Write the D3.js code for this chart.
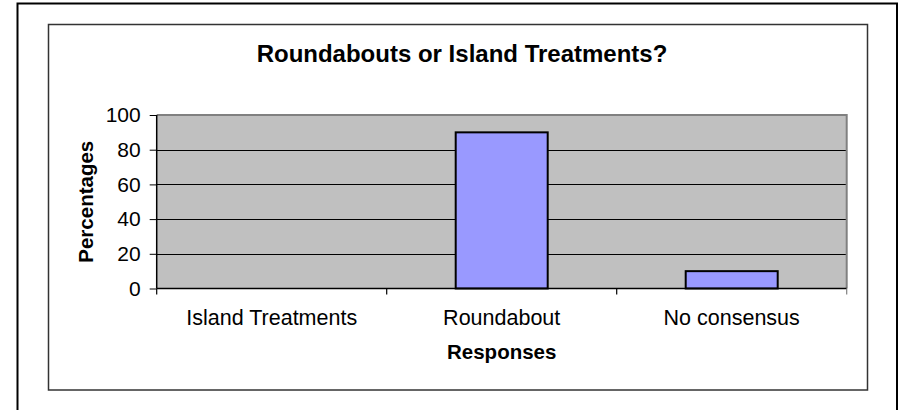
<!DOCTYPE html>
<html>
<head>
<meta charset="utf-8">
<script src="https://cdn.jsdelivr.net/npm/d3@7"></script>
<style>
html,body{margin:0;padding:0;background:#fff;}
svg{display:block;}
text{font-family:"Liberation Sans",Arial,sans-serif;fill:#000;}
</style>
</head>
<body>
<svg id="chart" width="902" height="410"></svg>
<script>
const categories = ["Island Treatments", "Roundabout", "No consensus"];
const values = [0, 90, 10];
const yTicks = [0, 20, 40, 60, 80, 100];
const title = "Roundabouts or Island Treatments?";
const xTitle = "Responses";
const yTitle = "Percentages";

const svg = d3.select("#chart");
const plot = {left: 156.7, right: 846.7, top: 115, bottom: 288.5};

// outer frame
svg.append("path")
  .attr("d", "M17.5,410 L17.5,3.5 L897,3.5 L897,410")
  .attr("fill", "none").attr("stroke", "#000").attr("stroke-width", 2);

// inner chart box
svg.append("rect")
  .attr("x", 48.5).attr("y", 24.5).attr("width", 819).attr("height", 365.5)
  .attr("fill", "#fff").attr("stroke", "#333").attr("stroke-width", 1.5);

const x = d3.scaleBand().domain(categories).range([plot.left, plot.right]).padding(0);
const y = d3.scaleLinear().domain([0, 100]).range([plot.bottom, plot.top]);

// plot background
svg.append("rect")
  .attr("x", plot.left).attr("y", plot.top)
  .attr("width", plot.right - plot.left).attr("height", plot.bottom - plot.top)
  .attr("fill", "#C0C0C0");

// gridlines
svg.append("g").selectAll("line")
  .data(yTicks.filter(d => d > 0 && d < 100))
  .join("line")
  .attr("x1", plot.left).attr("x2", plot.right)
  .attr("y1", d => Math.round(y(d)) + 0.5).attr("y2", d => Math.round(y(d)) + 0.5)
  .attr("stroke", "#000").attr("stroke-width", 1);

// top & right gray border
svg.append("path")
  .attr("d", `M${plot.left},${plot.top} L${plot.right},${plot.top} L${plot.right},${plot.bottom}`)
  .attr("fill", "none").attr("stroke", "#808080").attr("stroke-width", 2);

// bars
const bw = x.bandwidth() * 0.4;
svg.append("g").selectAll("rect")
  .data(categories.map((c, i) => ({c, v: values[i]})).filter(d => d.v > 0))
  .join("rect")
  .attr("x", d => x(d.c) + x.bandwidth() / 2 - bw / 2)
  .attr("y", d => y(d.v))
  .attr("width", bw)
  .attr("height", d => y(0) - y(d.v))
  .attr("fill", "#9999FF").attr("stroke", "#000").attr("stroke-width", 2);

// y axis
const yAxis = d3.axisLeft(y).tickValues(yTicks).tickSize(7).tickPadding(9).tickFormat(d3.format("d"));
const gy = svg.append("g").attr("transform", `translate(${plot.left},0)`).call(yAxis);
gy.select(".domain").attr("stroke", "#000").attr("stroke-width", 1.5)
  .attr("d", `M0,${plot.top}V${plot.bottom}`);
gy.selectAll(".tick line").attr("stroke", "#000");
gy.selectAll(".tick text").attr("font-size", 21).attr("font-family", "Liberation Sans, Arial, sans-serif").attr("fill", "#000");

// x axis
const xAxis = d3.axisBottom(x).tickSize(0).tickPadding(21);
const gx = svg.append("g").attr("transform", `translate(0,${plot.bottom})`).call(xAxis);
gx.select(".domain").attr("stroke", "#000").attr("stroke-width", 1.5)
  .attr("d", `M${plot.left},0H${plot.right}`);
gx.selectAll(".tick text").attr("font-size", 21.5).attr("font-family", "Liberation Sans, Arial, sans-serif").attr("fill", "#000");
// category boundary ticks
const bounds = categories.map(c => x(c)).concat([x(categories[categories.length - 1]) + x.bandwidth()]);
gx.append("g").selectAll("line").data(bounds).join("line")
  .attr("x1", d => d).attr("x2", d => d).attr("y1", 0).attr("y2", 6)
  .attr("stroke", (d, i) => i === bounds.length - 1 ? "#808080" : "#000").attr("stroke-width", 1.2);

// titles
svg.append("text").attr("x", 462).attr("y", 62).attr("text-anchor", "middle")
  .attr("font-size", 24).attr("font-weight", "bold").text(title);
svg.append("text").attr("x", (plot.left + plot.right) / 2).attr("y", 359).attr("text-anchor", "middle")
  .attr("font-size", 20.5).attr("font-weight", "bold").text(xTitle);
svg.append("text").attr("transform", `translate(93,${(plot.top + plot.bottom) / 2}) rotate(-90)`)
  .attr("text-anchor", "middle").attr("font-size", 20.5).attr("font-weight", "bold").text(yTitle);
</script>
</body>
</html>
